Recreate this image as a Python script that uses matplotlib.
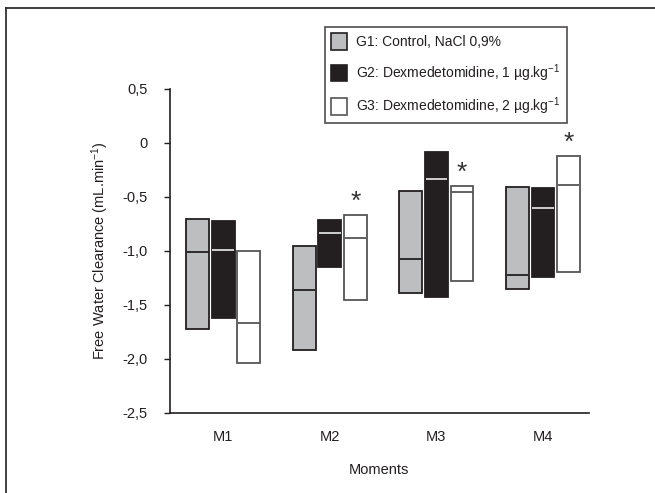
import numpy as np
import matplotlib
matplotlib.use("Agg")
import matplotlib.pyplot as plt
from matplotlib.patches import Patch

plt.rcParams['font.family'] = ['Liberation Sans', 'DejaVu Sans']
plt.rcParams['mathtext.fontset'] = 'custom'
plt.rcParams['mathtext.rm'] = 'Liberation Sans'
plt.rcParams['mathtext.it'] = 'Liberation Sans'

# data (min, max, median per group and moment)
moments = ['M1', 'M2', 'M3', 'M4']
groups = ['G1: Control, NaCl 0,9%',
          'G2: Dexmedetomidine, 1 µg.kg$^{-1}$',
          'G3: Dexmedetomidine, 2 µg.kg$^{-1}$']
g1_min = [-1.72, -1.92, -1.39, -1.35]
g1_max = [-0.70, -0.95, -0.44, -0.41]
g1_med = [-1.01, -1.36, -1.07, -1.22]
g2_min = [-1.62, -1.15, -1.43, -1.24]
g2_max = [-0.72, -0.71, -0.08, -0.42]
g2_med = [-0.99, -0.83, -0.33, -0.60]
g3_min = [-2.04, -1.45, -1.28, -1.19]
g3_max = [-1.00, -0.67, -0.40, -0.12]
g3_med = [-1.67, -0.88, -0.45, -0.39]
signif_g3 = [False, True, True, True]
yticks = [0.5, 0, -0.5, -1.0, -1.5, -2.0, -2.5]
ytick_labels = ['0,5', '0', '-0,5', '-1,0', '-1,5', '-2,0', '-2,5']

ink = '#231f20'
fills = ['#bdbec0', ink, 'white']
edges = [ink, ink, '#555555']
medcol = [ink, '#dddddd', '#555555']

fig = plt.figure(figsize=(6.55, 4.93), dpi=100)
ax = fig.add_axes([0.2595, 0.1623, 0.6395, 0.6572])

x = np.arange(len(moments))
w = 0.215
off = 0.24
lows = [g1_min, g2_min, g3_min]
highs = [g1_max, g2_max, g3_max]
meds = [g1_med, g2_med, g3_med]

for k in range(3):
    xs = x + (k - 1) * off
    lo = np.array(lows[k])
    hi = np.array(highs[k])
    ax.bar(xs, hi - lo, bottom=lo, width=w, color=fills[k],
           edgecolor=edges[k], linewidth=1.3, zorder=2)
    ax.hlines(meds[k], xs - w / 2 + 0.006, xs + w / 2 - 0.006,
              color=medcol[k], linewidth=1.3, zorder=3)

for i, s in enumerate(signif_g3):
    if s:
        ax.annotate('*', (x[i] + off, g3_max[i]), xytext=(0, 1),
                    textcoords='offset points', ha='center', va='bottom',
                    fontsize=19, color='#333333')

ax.set_xlim(-0.5, 3.43)
ax.set_ylim(-2.5, 0.5)
ax.set_yticks(yticks)
ax.set_yticklabels(ytick_labels)
ax.set_xticks(x)
ax.set_xticklabels(moments)
ax.tick_params(axis='x', length=0, pad=12, labelsize=10.5, colors=ink)
ax.tick_params(axis='y', length=4, width=1, pad=12, labelsize=10.5, colors=ink)
ax.spines['top'].set_visible(False)
ax.spines['right'].set_visible(False)
for sp in ['left', 'bottom']:
    ax.spines[sp].set_color(ink)
    ax.spines[sp].set_linewidth(1.2)
ax.set_xlabel('Moments', fontsize=10.5, color=ink, labelpad=14)
ax.set_ylabel('Free Water Clearance (mL.min$^{-1}$)', fontsize=10.5,
              color=ink, labelpad=8)

handles = [Patch(facecolor=fills[k], edgecolor=edges[k], linewidth=1.2)
           for k in range(3)]
leg = fig.legend(handles, groups, loc='upper left',
                 bbox_to_anchor=(325 / 655, 1 - 27 / 493),
                 frameon=True, fancybox=False, fontsize=10,
                 handlelength=1.15, handleheight=1.5, labelspacing=0.85,
                 borderpad=0.45, handletextpad=0.65, borderaxespad=0)
leg.get_frame().set_edgecolor(ink)
leg.get_frame().set_linewidth(1.2)
for t in leg.get_texts():
    t.set_color(ink)

# frame lines of the cropped figure (top and left)
fig.add_artist(plt.Line2D([6 / 655, 1], [1 - 8 / 493, 1 - 8 / 493],
                          color=ink, linewidth=1.2, transform=fig.transFigure))
fig.add_artist(plt.Line2D([6 / 655, 6 / 655], [0, 1 - 8 / 493],
                          color=ink, linewidth=1.2, transform=fig.transFigure))

fig.savefig('out.png', dpi=100)
